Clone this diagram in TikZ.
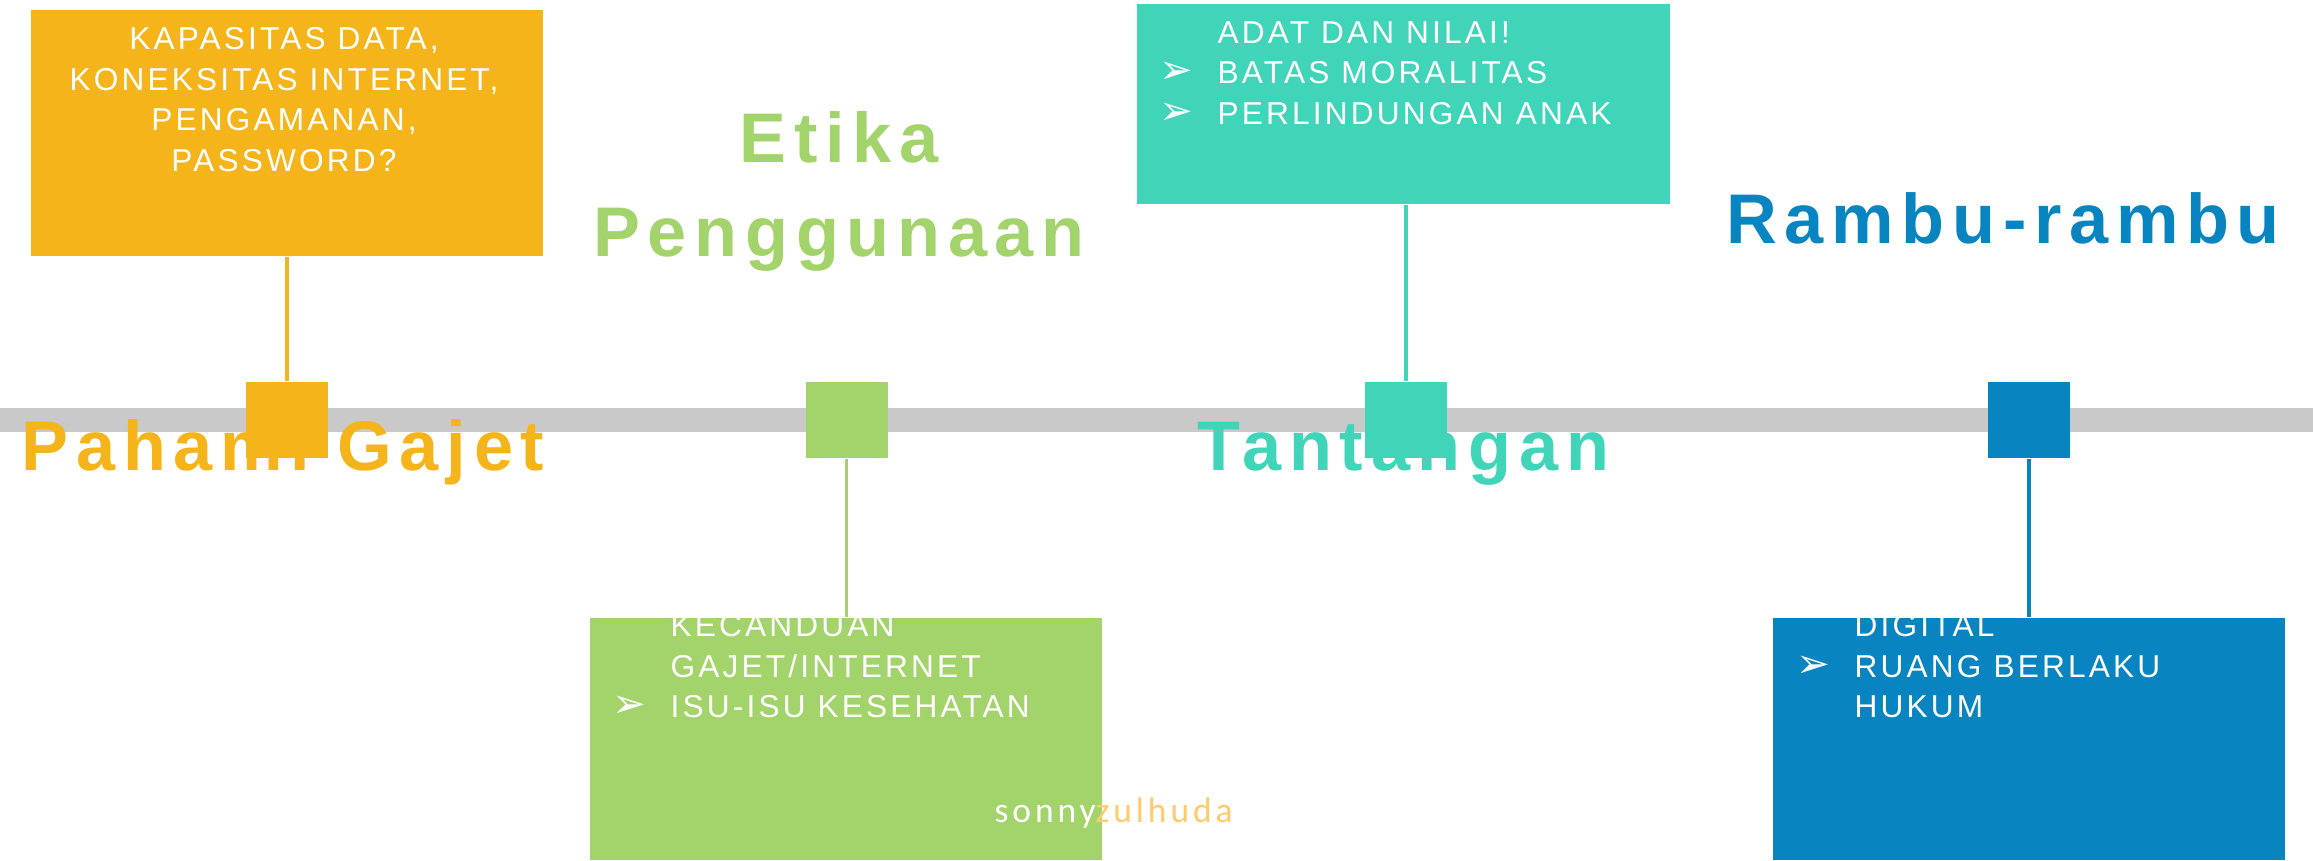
\documentclass[tikz,border=0pt]{standalone}
\usepackage{fontspec}
\setmainfont{Liberation Sans}
\newfontfamily\titlefont[LetterSpace=11]{Liberation Sans}
\newfontfamily\bodyfont[LetterSpace=10]{Liberation Sans}
\newfontfamily\signfont[LetterSpace=11]{Carlito}
\newfontfamily\symfont{DejaVu Sans}
\definecolor{gajet}{HTML}{F4B41A}
\definecolor{etika}{HTML}{A3D36B}
\definecolor{tantangan}{HTML}{40D5B9}
\definecolor{rambu}{HTML}{0884C0}
\definecolor{barcol}{HTML}{C9C9C9}
\definecolor{signcol}{HTML}{FFCB6B}
\newcommand{\bul}{\makebox[0.58cm][l]{\symfont\fontsize{11.5}{11.5}\selectfont ➢}}
\newcommand{\nobul}{\hspace*{0.58cm}}

\begin{document}
\begin{tikzpicture}[
    sq/.style={rectangle, minimum width=0.82cm, minimum height=0.76cm, inner sep=0},
    panel/.style={rectangle, inner sep=0},
    ttl/.style={font=\titlefont\bfseries\fontsize{20}{27}\selectfont, align=center, inner sep=0},
    txt/.style={font=\bodyfont\fontsize{9}{11.5}\selectfont, text=white, inner sep=0},
    link/.style={line width=0.9pt}
]
\fill[white] (0,0) rectangle (23.13,8.6);
\useasboundingbox (0,0) rectangle (23.13,8.6);
% time line
\fill[barcol] (0,4.28) rectangle (23.13,4.52);

\node[ttl, text=gajet, anchor=base] (tA) at (2.83,3.90) {Pahami Gajet};
\node[ttl, text=etika] (tB) at (8.39,6.685) {Etika\\Penggunaan};
\node[ttl, text=tantangan, anchor=base] (tC) at (14.03,3.89) {Tantangan};
\node[ttl, text=rambu, anchor=base] (tD) at (20.03,6.16) {Rambu-rambu};

\node[sq, fill=gajet] (sqA) at (2.87,4.40) {};
\node[sq, fill=etika] (sqB) at (8.465,4.40) {};
\node[sq, fill=tantangan] (sqC) at (14.06,4.40) {};
\node[sq, fill=rambu] (sqD) at (20.29,4.40) {};

\node[panel, fill=gajet, minimum width=5.12cm, minimum height=2.46cm] (boxA) at (2.87,7.27) {};
\node[panel, fill=tantangan, minimum width=5.33cm, minimum height=2.0cm] (boxC) at (14.035,7.56) {};
\node[panel, fill=etika, minimum width=5.12cm, minimum height=2.42cm] (boxB) at (8.46,1.21) {};
\node[panel, fill=rambu, minimum width=5.12cm, minimum height=2.42cm] (boxD) at (20.29,1.21) {};

\draw[link, gajet] (boxA.south) -- (sqA.north);
\draw[link, tantangan] (sqC.north) -- (sqC.north |- boxC.south);
\draw[link, etika] (sqB.south) -- (sqB.south |- boxB.north);
\draw[link, rambu] (sqD.south) -- (boxD.north);

\node[txt, align=center, anchor=north] (txA) at (2.84,8.33)
  {KAPASITAS DATA,\\KONEKSITAS INTERNET,\\PENGAMANAN,\\PASSWORD?};
\node[txt, align=left, anchor=north west] (txC) at (11.59,8.39)
  {\nobul ADAT DAN NILAI!\\\bul BATAS MORALITAS\\\bul PERLINDUNGAN ANAK};
\node[txt, align=left, anchor=north west] (txB) at (6.12,2.46)
  {\nobul KECANDUAN\\\nobul GAJET/INTERNET\\\bul ISU-ISU KESEHATAN};
\node[txt, align=left, anchor=north west] (txD) at (17.96,2.46)
  {\nobul DIGITAL\\\bul RUANG BERLAKU\\\nobul HUKUM};

\node[font=\signfont\fontsize{10.1}{12}\selectfont, text=white, anchor=base west, inner sep=0] (sign)
  at (9.94,0.38) {sonny\textcolor{signcol}{zulhuda}};
\end{tikzpicture}
\end{document}
